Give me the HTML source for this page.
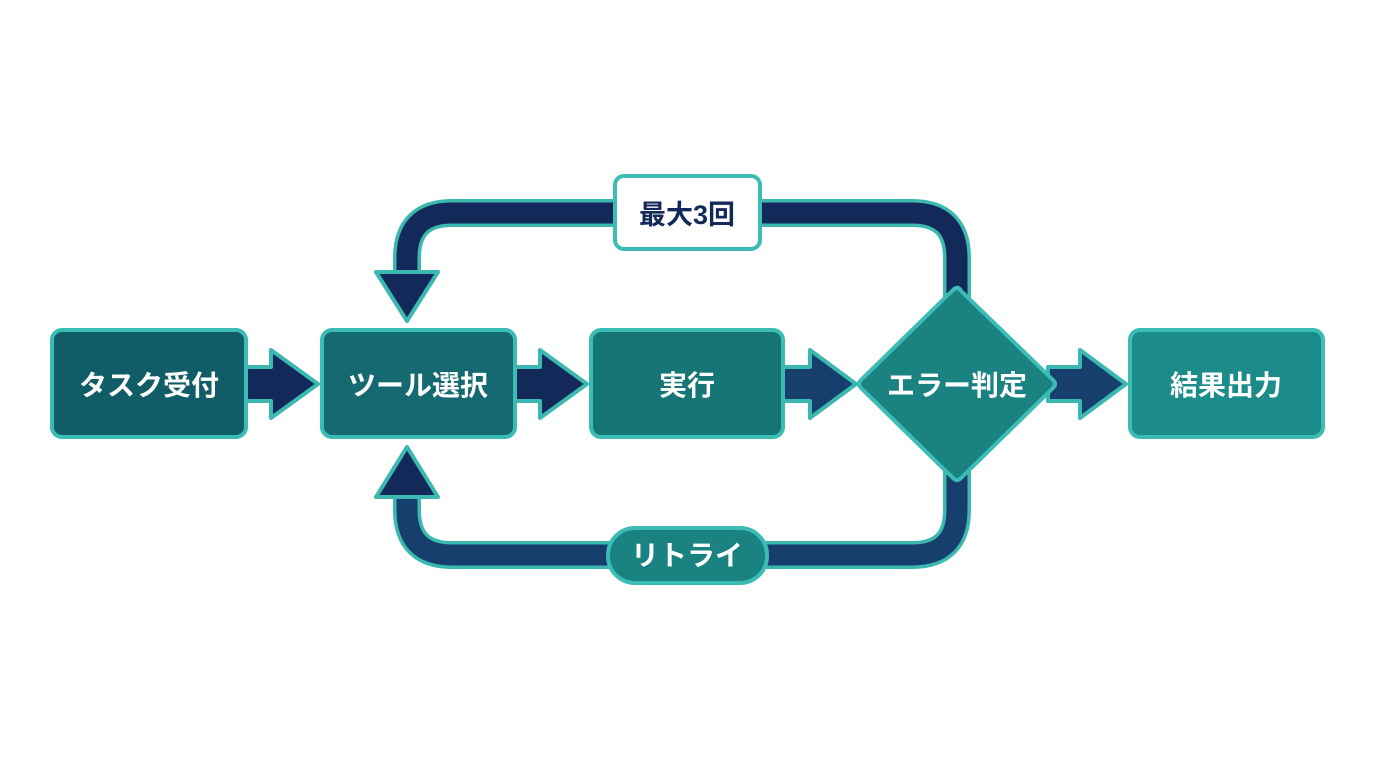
<!DOCTYPE html>
<html><head><meta charset="utf-8"><style>
html,body{margin:0;padding:0;background:#fff;}
svg{display:block;}
text{font-family:"Liberation Sans","Noto Sans CJK JP",sans-serif;font-weight:bold;}
</style></head><body>
<svg width="1376" height="768" viewBox="0 0 1376 768" xmlns="http://www.w3.org/2000/svg">
<rect width="1376" height="768" fill="#fff"/>
<!-- top loop -->
<path d="M957,300 V258 Q957,213 912,213 H452 Q407,213 407,258 V278" fill="none" stroke="#3bb8b0" stroke-width="28"/>
<path d="M957,300 V258 Q957,213 912,213 H452 Q407,213 407,258 V280" fill="none" stroke="#13295a" stroke-width="21"/>
<polygon points="376,272 438,272 407,321" fill="#13295a" stroke="#3bb8b0" stroke-width="4" stroke-linejoin="round"/>
<!-- bottom loop -->
<path d="M957,470 V510 Q957,555 912,555 H452 Q407,555 407,510 V495" fill="none" stroke="#3bb8b0" stroke-width="28"/>
<path d="M957,470 V510 Q957,555 912,555 H452 Q407,555 407,510 V493" fill="none" stroke="#173f6e" stroke-width="21"/>
<polygon points="376,497 438,497 407,447" fill="#13295a" stroke="#3bb8b0" stroke-width="4" stroke-linejoin="round"/>
<!-- straight arrows -->
<g stroke="#3bb8b0" stroke-width="4" stroke-linejoin="round">
<polygon points="244,367 271,367 271,350 318,384 271,418 271,401 244,401" fill="#13295a"/>
<polygon points="513,367 540,367 540,350 587,384 540,418 540,401 513,401" fill="#13295a"/>
<polygon points="781,367 810,367 810,350 856,384 810,418 810,401 781,401" fill="#173f6e"/>
<polygon points="1048,367 1080,367 1080,350 1126,384 1080,418 1080,401 1048,401" fill="#173f6e"/>
</g>
<!-- boxes -->
<g stroke="#3bbcb4" stroke-width="4">
<rect x="52" y="330" width="194" height="107" rx="10" fill="#115d67"/>
<rect x="322" y="330" width="193" height="107" rx="10" fill="#146a70"/>
<rect x="591" y="330" width="192" height="107" rx="10" fill="#167676"/>
<rect x="1130" y="330" width="193" height="107" rx="10" fill="#1b8c8a"/>
<path d="M957,287 L1053,380 Q1057,384 1053,388 L961,478 Q957,482 953,478 L861,388 Q857,384 861,380 L953,290 Q957,286 961,290 Z" fill="#1a8381"/>
</g>
<g fill="#fff" font-size="28" text-anchor="middle">
<text x="149" y="395">タスク受付</text>
<text x="418" y="395">ツール選択</text>
<text x="687" y="395">実行</text>
<text x="957" y="395">エラー判定</text>
<text x="1226" y="395">結果出力</text>
</g>
<!-- labels -->
<rect x="615" y="176" width="145" height="73" rx="9" fill="#fff" stroke="#3bbcb4" stroke-width="4"/>
<text x="687" y="224" font-size="27" fill="#13295a" text-anchor="middle">最大3回</text>
<rect x="608" y="528" width="159" height="55" rx="27" fill="#1a8280" stroke="#3bbcb4" stroke-width="4"/>
<text x="687" y="565" font-size="28" fill="#fff" text-anchor="middle">リトライ</text>
</svg>
</body></html>
